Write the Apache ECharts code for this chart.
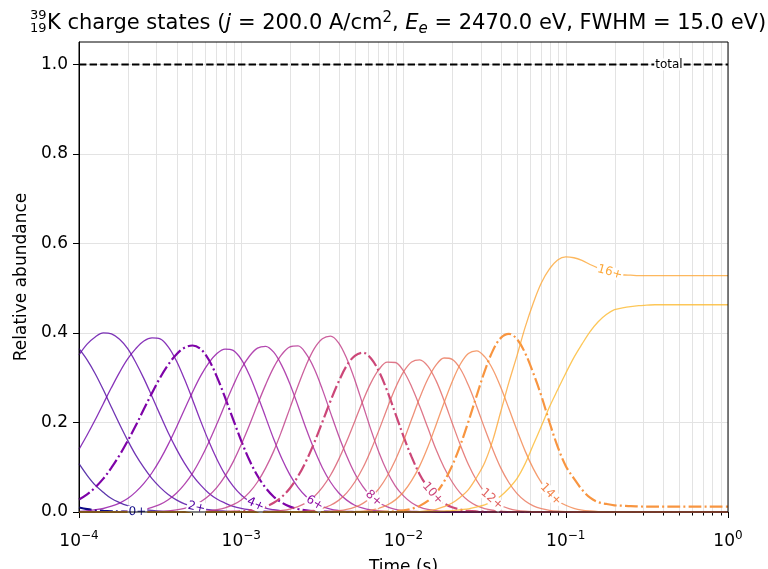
<!DOCTYPE html>
<html><head><meta charset="utf-8">
<script src="https://cdn.jsdelivr.net/npm/echarts@6/dist/echarts.min.js"></script>
<style>html,body{margin:0;padding:0;background:#fff}#c{width:768px;height:569px}</style>
</head><body><div id="c"></div><script>
// ---- data: log10(time) grid and abundances ----
const timeExp = [-4.00,-3.95,-3.90,-3.85,-3.80,-3.75,-3.70,-3.65,-3.60,-3.55,
  -3.50,-3.45,-3.40,-3.35,-3.30,-3.25,-3.20,-3.15,-3.10,-3.05,
  -3.00,-2.95,-2.90,-2.85,-2.80,-2.75,-2.70,-2.65,-2.60,-2.55,
  -2.50,-2.45,-2.40,-2.35,-2.30,-2.25,-2.20,-2.15,-2.10,-2.05,
  -2.00,-1.95,-1.90,-1.85,-1.80,-1.75,-1.70,-1.65,-1.60,-1.55,
  -1.50,-1.45,-1.40,-1.35,-1.30,-1.25,-1.20,-1.15,-1.10,-1.05,
  -1.00,-0.95,-0.90,-0.85,-0.80,-0.75,-0.70,-0.65,-0.60,-0.55,
  -0.50,-0.45,-0.40,-0.35,-0.30,-0.25,-0.20,-0.15,-0.10,-0.05,
  0.00];
const cs0 = [0.010,0.0065,0.004,0.0025,0.0015,0.001,0.0005,0.0002,0,0,
  0,0,0,0,0,0,0,0,0,0, 0,0,0,0,0,0,0,0,0,0, 0,0,0,0,0,0,0,0,0,0,
  0,0,0,0,0,0,0,0,0,0, 0,0,0,0,0,0,0,0,0,0, 0,0,0,0,0,0,0,0,0,0,
  0,0,0,0,0,0,0,0,0,0, 0];
const cs1 = [0.108,0.082,0.060,0.044,0.030,0.021,0.014,0.009,0.0056,0.0035,
  0.002,0.0013,0.001,0.0005,0,0,0,0,0,0, 0,0,0,0,0,0,0,0,0,0, 0,0,0,0,0,0,0,0,0,0,
  0,0,0,0,0,0,0,0,0,0, 0,0,0,0,0,0,0,0,0,0, 0,0,0,0,0,0,0,0,0,0,
  0,0,0,0,0,0,0,0,0,0, 0];
const cs2 = [0.365,0.340,0.309,0.273,0.234,0.196,0.160,0.127,0.099,0.0745,
  0.055,0.039,0.027,0.018,0.012,0.008,0.005,0.003,0.002,0.001,
  0.001,0.0005,0,0,0,0,0,0,0,0, 0,0,0,0,0,0,0,0,0,0,
  0,0,0,0,0,0,0,0,0,0, 0,0,0,0,0,0,0,0,0,0, 0,0,0,0,0,0,0,0,0,0,
  0,0,0,0,0,0,0,0,0,0, 0];
const cs3 = [0.351,0.375,0.391,0.400,0.398,0.386,0.365,0.334,0.298,0.258,
  0.217,0.177,0.141,0.109,0.082,0.060,0.042,0.029,0.020,0.0127,
  0.008,0.005,0.003,0.0017,0.001,0.0005,0,0,0,0, 0,0,0,0,0,0,0,0,0,0,
  0,0,0,0,0,0,0,0,0,0, 0,0,0,0,0,0,0,0,0,0, 0,0,0,0,0,0,0,0,0,0,
  0,0,0,0,0,0,0,0,0,0, 0];
const cs4 = [0.140,0.172,0.206,0.242,0.278,0.312,0.342,0.365,0.382,0.389,
  0.387,0.369,0.338,0.297,0.251,0.203,0.158,0.118,0.084,0.058,
  0.038,0.024,0.0146,0.0085,0.005,0.0025,0.001,0.0006,0,0, 0,0,0,0,0,0,0,0,0,0,
  0,0,0,0,0,0,0,0,0,0, 0,0,0,0,0,0,0,0,0,0, 0,0,0,0,0,0,0,0,0,0,
  0,0,0,0,0,0,0,0,0,0, 0];
const cs5 = [0.028,0.0395,0.055,0.0745,0.099,0.127,0.159,0.193,0.230,0.266,
  0.300,0.329,0.352,0.367,0.372,0.364,0.340,0.302,0.256,0.207,
  0.159,0.116,0.081,0.054,0.034,0.021,0.012,0.0066,0.0035,0.0017,
  0.001,0.0004,0,0,0,0,0,0,0,0,
  0,0,0,0,0,0,0,0,0,0, 0,0,0,0,0,0,0,0,0,0, 0,0,0,0,0,0,0,0,0,0,
  0,0,0,0,0,0,0,0,0,0, 0];
const cs6 = [0.0015,0.0027,0.005,0.0078,0.013,0.020,0.030,0.045,0.064,0.0877,
  0.117,0.151,0.189,0.229,0.268,0.304,0.333,0.354,0.364,0.361,
  0.341,0.306,0.261,0.212,0.163,0.1195,0.083,0.055,0.0345,0.0206,
  0.0118,0.0063,0.0033,0.0016,0.001,0.0004,0,0,0,0,
  0,0,0,0,0,0,0,0,0,0, 0,0,0,0,0,0,0,0,0,0, 0,0,0,0,0,0,0,0,0,0,
  0,0,0,0,0,0,0,0,0,0, 0];
const cs7 = [0,0,0,0.0002,0.0005,0.001,0.002,0.0035,0.006,0.0106,
  0.017,0.0275,0.042,0.0617,0.087,0.119,0.156,0.197,0.240,0.282,
  0.320,0.348,0.366,0.370,0.357,0.327,0.286,0.237,0.186,0.1394,
  0.099,0.067,0.043,0.0265,0.015,0.0085,0.0045,0.0022,0.001,0.0005,
  0,0,0,0,0,0,0,0,0,0, 0,0,0,0,0,0,0,0,0,0, 0,0,0,0,0,0,0,0,0,0,
  0,0,0,0,0,0,0,0,0,0, 0];
const cs8 = [0,0,0,0,0,0,0,0,0,0.0006,
  0.0013,0.0024,0.0046,0.0082,0.014,0.023,0.0365,0.055,0.080,0.112,
  0.151,0.194,0.240,0.284,0.323,0.352,0.369,0.371,0.353,0.320,
  0.274,0.222,0.171,0.125,0.086,0.0567,0.035,0.0206,0.0115,0.0061,
  0.003,0.0015,0.001,0.0003,0,0,0,0,0,0,
  0,0,0,0,0,0,0,0,0,0, 0,0,0,0,0,0,0,0,0,0, 0,0,0,0,0,0,0,0,0,0, 0];
const cs9 = [0,0,0,0,0,0,0,0,0,0,
  0,0,0,0.0003,0.0006,0.0013,0.0026,0.005,0.0093,0.0163,
  0.027,0.0438,0.067,0.098,0.136,0.182,0.232,0.282,0.328,0.365,
  0.387,0.393,0.378,0.343,0.295,0.239,0.183,0.132,0.090,0.058,
  0.036,0.0206,0.011,0.0058,0.003,0.0013,0.001,0.0003,0,0,
  0,0,0,0,0,0,0,0,0,0, 0,0,0,0,0,0,0,0,0,0, 0,0,0,0,0,0,0,0,0,0, 0];
const cs10 = [0,0,0,0,0,0,0,0,0,0,
  0,0,0,0,0,0,0,0.0002,0.0004,0.0008,
  0.0017,0.0035,0.0066,0.012,0.0206,0.034,0.053,0.080,0.114,0.155,
  0.201,0.248,0.291,0.327,0.349,0.356,0.343,0.313,0.270,0.220,
  0.169,0.123,0.084,0.0548,0.033,0.0193,0.0105,0.0055,0.0026,0.0012,
  0.0006,0.0002,0,0,0,0,0,0,0,0,
  0,0,0,0,0,0,0,0,0,0, 0,0,0,0,0,0,0,0,0,0, 0];
const cs11 = [0,0,0,0,0,0,0,0,0,0,
  0,0,0,0,0,0,0,0,0,0,
  0,0.0001,0.0003,0.0008,0.0017,0.0034,0.0065,0.012,0.021,0.0348,
  0.055,0.082,0.117,0.158,0.203,0.2485,0.289,0.319,0.335,0.334,
  0.315,0.280,0.236,0.188,0.140,0.0995,0.067,0.042,0.025,0.0143,
  0.0076,0.0039,0.0018,0.0009,0.0004,0.0002,0,0,0,0,
  0,0,0,0,0,0,0,0,0,0, 0,0,0,0,0,0,0,0,0,0, 0];
const cs12 = [0,0,0,0,0,0,0,0,0,0,
  0,0,0,0,0,0,0,0,0,0,
  0,0,0,0,0,0.0002,0.0004,0.001,0.0021,0.0042,
  0.0082,0.015,0.026,0.0428,0.067,0.0988,0.139,0.184,0.232,0.277,
  0.313,0.335,0.340,0.326,0.294,0.249,0.199,0.150,0.106,0.0709,
  0.0445,0.0263,0.0145,0.0076,0.0037,0.0017,0.0008,0.0003,0,0,
  0,0,0,0,0,0,0,0,0,0, 0,0,0,0,0,0,0,0,0,0, 0];
const cs13 = [0,0,0,0,0,0,0,0,0,0,
  0,0,0,0,0,0,0,0,0,0,
  0,0,0,0,0,0,0,0,0,0.0003,
  0.0006,0.0014,0.0029,0.0057,0.0107,0.0192,0.033,0.0529,0.0805,0.116,
  0.159,0.207,0.255,0.297,0.328,0.344,0.341,0.320,0.283,0.237,
  0.187,0.140,0.098,0.0654,0.041,0.0245,0.0138,0.0073,0.0037,0.0018,
  0.0008,0.0003,0,0,0,0,0,0,0,0,
  0,0,0,0,0,0,0,0,0,0, 0];
const cs14 = [0,0,0,0,0,0,0,0,0,0,
  0,0,0,0,0,0,0,0,0,0,
  0,0,0,0,0,0,0,0,0,0,
  0,0,0.0002,0.0004,0.001,0.0021,0.0044,0.0085,0.0156,0.0271,
  0.0446,0.070,0.103,0.145,0.194,0.244,0.291,0.330,0.354,0.360,
  0.347,0.319,0.278,0.2305,0.182,0.136,0.097,0.0658,0.042,0.0259,
  0.015,0.0083,0.0043,0.0022,0.001,0.0005,0,0,0,0,
  0,0,0,0,0,0,0,0,0,0, 0];
const cs15 = [0,0,0,0,0,0,0,0,0,0,
  0,0,0,0,0,0,0,0,0,0,
  0,0,0,0,0,0,0,0,0,0,
  0,0,0,0,0,0,0.0001,0.0003,0.0007,0.0017,
  0.0035,0.0072,0.0137,0.0246,0.042,0.068,0.1035,0.149,0.202,0.259,
  0.314,0.360,0.389,0.398,0.386,0.355,0.310,0.259,0.200,0.146,
  0.103,0.075,0.050,0.032,0.022,0.018,0.015,0.014,0.013,0.0125,
  0.012,0.012,0.012,0.012,0.012,0.012,0.012,0.012,0.012,0.012,
  0.012];
const cs16 = [0,0,0,0,0,0,0,0,0,0,
  0,0,0,0,0,0,0,0,0,0,
  0,0,0,0,0,0,0,0,0,0,
  0,0,0,0,0,0,0,0,0,0,
  0,0,0.001,0.003,0.006,0.012,0.020,0.033,0.050,0.077,
  0.110,0.160,0.225,0.290,0.350,0.413,0.467,0.512,0.543,0.563,
  0.570,0.568,0.562,0.553,0.545,0.538,0.533,0.530,0.529,0.528,
  0.528,0.528,0.528,0.528,0.528,0.528,0.528,0.528,0.528,0.528,
  0.528];
const cs17 = [0,0,0,0,0,0,0,0,0,0,
  0,0,0,0,0,0,0,0,0,0,
  0,0,0,0,0,0,0,0,0,0,
  0,0,0,0,0,0,0,0,0,0,
  0,0,0,0,0.001,0.002,0.003,0.005,0.007,0.011,
  0.016,0.024,0.036,0.053,0.075,0.108,0.150,0.192,0.235,0.273,
  0.310,0.345,0.375,0.403,0.425,0.441,0.452,0.456,0.459,0.461,
  0.462,0.463,0.463,0.463,0.463,0.463,0.463,0.463,0.463,0.463,
  0.463];
const totalAbundance = [1,1,1,1,1,1,1,1,1,1, 1,1,1,1,1,1,1,1,1,1,
  1,1,1,1,1,1,1,1,1,1, 1,1,1,1,1,1,1,1,1,1,
  1,1,1,1,1,1,1,1,1,1, 1,1,1,1,1,1,1,1,1,1,
  1,1,1,1,1,1,1,1,1,1, 1,1,1,1,1,1,1,1,1,1, 1];
const stateArrays = [cs0,cs1,cs2,cs3,cs4,cs5,cs6,cs7,cs8,cs9,cs10,cs11,cs12,cs13,cs14,cs15,cs16,cs17];
const stateNames = ['0+','1+','2+','3+','4+','5+','6+','7+','8+','9+','10+','11+','12+','13+','14+','15+','16+','17+'];
// inline labels: log10(time) positions for states 0,2,...,16 and for total
const labelStates = [0,2,4,6,8,10,12,14,16];
const labelExps = [-3.64,-3.276,-2.912,-2.548,-2.184,-1.82,-1.456,-1.092,-0.728];
const totalLabelExp = -0.364;
const minorTicks = [2e-4,3e-4,4e-4,5e-4,6e-4,7e-4,8e-4,9e-4,
  2e-3,3e-3,4e-3,5e-3,6e-3,7e-3,8e-3,9e-3,
  2e-2,3e-2,4e-2,5e-2,6e-2,7e-2,8e-2,9e-2,
  0.2,0.3,0.4,0.5,0.6,0.7,0.8,0.9];
const yTicks = [0,0.2,0.4,0.6,0.8,1.0];

// ---- style ----
const stateColors = ['#0d0887','#330597','#4c02a1','#5c01a6','#6a00a8','#7e03a8','#8f0da4','#a01a9c','#b12a90','#bf3984',
  '#cc4778','#d6556d','#e16462','#ea7457','#f2844b','#f89540','#fca636','#fdb92e'];
const FONT = 'DejaVu Sans';
const GRIDC = '#e3e3e3';

const times = timeExp.map(e => Math.pow(10, e));
const chart = echarts.init(document.getElementById('c'));

const series = stateArrays.map((arr, i) => ({
  type: 'line', name: stateNames[i],
  data: arr.map((v, k) => [times[k], v]),
  showSymbol: false, symbol: 'none', smooth: 0.35, silent: true,
  lineStyle: {
    color: stateColors[i],
    width: i % 5 === 0 ? 2.2 : 1.3,
    opacity: i % 5 === 0 ? 1 : 0.8,
    type: i % 5 === 0 ? [12.8, 3.2, 2, 3.2] : 'solid'
  },
  z: 2
}));
series.push({
  type: 'line', name: 'total', data: totalAbundance.map((v, k) => [times[k], v]),
  showSymbol: false, symbol: 'none', silent: true,
  lineStyle: {color: '#000', width: 2, type: [7.4, 3.2]}, z: 3
});
series.push({
  type: 'custom', silent: true, clip: false, z: 1,
  data: minorTicks.map(v => [v, 0]),
  renderItem(params, api) {
    const b = api.coord([api.value(0), 0]);
    const t = api.coord([api.value(0), 1.05]);
    const x = Math.round(b[0]) + 0.5;
    return {type: 'group', children: [
      {type: 'line', shape: {x1: x, y1: b[1], x2: x, y2: t[1]}, style: {stroke: GRIDC, lineWidth: 1}},
      {type: 'line', shape: {x1: x, y1: b[1], x2: x, y2: b[1] + 3.5}, style: {stroke: '#000', lineWidth: 1}}
    ]};
  }
});

chart.setOption({
  animation: false,
  textStyle: {fontFamily: FONT},
  grid: {left: 79, right: 40, top: 42, bottom: 57, containLabel: false, outerBoundsMode: 'none',
    show: true, borderColor: '#000', borderWidth: 1, backgroundColor: 'transparent', z: 60},
  xAxis: {
    type: 'log', logBase: 10, min: 1e-4, max: 1, splitNumber: 4,
    axisLine: {show: true, lineStyle: {color: '#000', width: 1}},
    axisTick: {show: true, inside: false, length: 6, lineStyle: {color: '#000'}},
    minorTick: {show: false},
    splitLine: {show: true, lineStyle: {color: GRIDC, width: 1}},
    axisLabel: {
      margin: 20, color: '#000',
      formatter: v => { const e = Math.round(Math.log10(v)); return '{b|10}{s|' + (e < 0 ? '\u2212' + (-e) : String(e)) + '}'; },
      rich: {
        b: {fontSize: 17, fontFamily: FONT, color: '#000', lineHeight: 20},
        s: {fontSize: 12, fontFamily: FONT, color: '#000', lineHeight: 12, padding: [0, 0, 12, 0]}
      }
    },
    name: 'Time (s)', nameLocation: 'middle', nameGap: 45,
    nameTextStyle: {fontSize: 17, color: '#000', fontFamily: FONT}
  },
  yAxis: {
    type: 'value', min: 0, max: 1.05, interval: 0.2,
    axisLine: {show: true, lineStyle: {color: '#000', width: 1}},
    axisTick: {show: true, length: 6, lineStyle: {color: '#000'}, customValues: yTicks},
    axisLabel: {customValues: yTicks, formatter: v => v.toFixed(1), color: '#000', fontSize: 17, fontFamily: FONT, margin: 11},
    splitLine: {show: true, lineStyle: {color: GRIDC, width: 1}},
    name: 'Relative abundance', nameLocation: 'middle', nameGap: 40, nameRotate: 90,
    nameTextStyle: {fontSize: 17, color: '#000', fontFamily: FONT}
  },
  series: series
});

function valueAt(arr, e) {
  for (let k = 0; k < timeExp.length - 1; k++) {
    if (e >= timeExp[k] && e <= timeExp[k + 1]) {
      const f = (e - timeExp[k]) / (timeExp[k + 1] - timeExp[k]);
      return arr[k] + f * (arr[k + 1] - arr[k]);
    }
  }
  return arr[arr.length - 1];
}
function makeLabel(arr, e, text, color) {
  const y = valueAt(arr, e);
  const p = chart.convertToPixel({seriesIndex: 0}, [Math.pow(10, e), y]);
  const p1 = chart.convertToPixel({seriesIndex: 0}, [Math.pow(10, e - 0.03), valueAt(arr, e - 0.03)]);
  const p2 = chart.convertToPixel({seriesIndex: 0}, [Math.pow(10, e + 0.03), valueAt(arr, e + 0.03)]);
  const ang = Math.atan2(-(p2[1] - p1[1]), p2[0] - p1[0]);
  return {type: 'text', x: p[0], y: p[1], rotation: ang, z: 50, silent: true,
    style: {text: text, fill: color, font: '12px "DejaVu Sans"', align: 'center', verticalAlign: 'middle',
      backgroundColor: '#fff', padding: [0, 1]}};
}
const labels = labelStates.map((s, j) => makeLabel(stateArrays[s], labelExps[j], stateNames[s], stateColors[s]));
labels.push(makeLabel(totalAbundance, totalLabelExp, 'total', '#000'));

const titleEls = [
  {type: 'text', x: 30, y: 22, z: 50, style: {text: '39', font: '13px "DejaVu Sans"', fill: '#000', align: 'left', verticalAlign: 'bottom'}},
  {type: 'text', x: 30, y: 22, z: 50, style: {text: '19', font: '13px "DejaVu Sans"', fill: '#000', align: 'left', verticalAlign: 'top'}},
  {type: 'text', x: 47, y: 24, z: 50, style: {
    text: 'K charge states ({i|j}{n| = 200.0 A/cm}{sup|2}{n|, }{i|E}{sub|e}{n| = 2470.0 eV, FWHM = 15.0 eV)}',
    font: '21px "DejaVu Sans"', fill: '#000', align: 'left', verticalAlign: 'middle',
    rich: {
      n: {fontSize: 21, fontFamily: FONT, fill: '#000', lineHeight: 24},
      i: {fontSize: 21, fontFamily: FONT, fontStyle: 'italic', fill: '#000', lineHeight: 24},
      sup: {fontSize: 15, fontFamily: FONT, fill: '#000', lineHeight: 15, padding: [0, 0, 12, 0]},
      sub: {fontSize: 15, fontFamily: FONT, fontStyle: 'italic', fill: '#000', lineHeight: 15, padding: [10, 0, 0, 0]}
    }
  }}
];
chart.setOption({graphic: {elements: titleEls.concat(labels)}});
</script></body></html>
